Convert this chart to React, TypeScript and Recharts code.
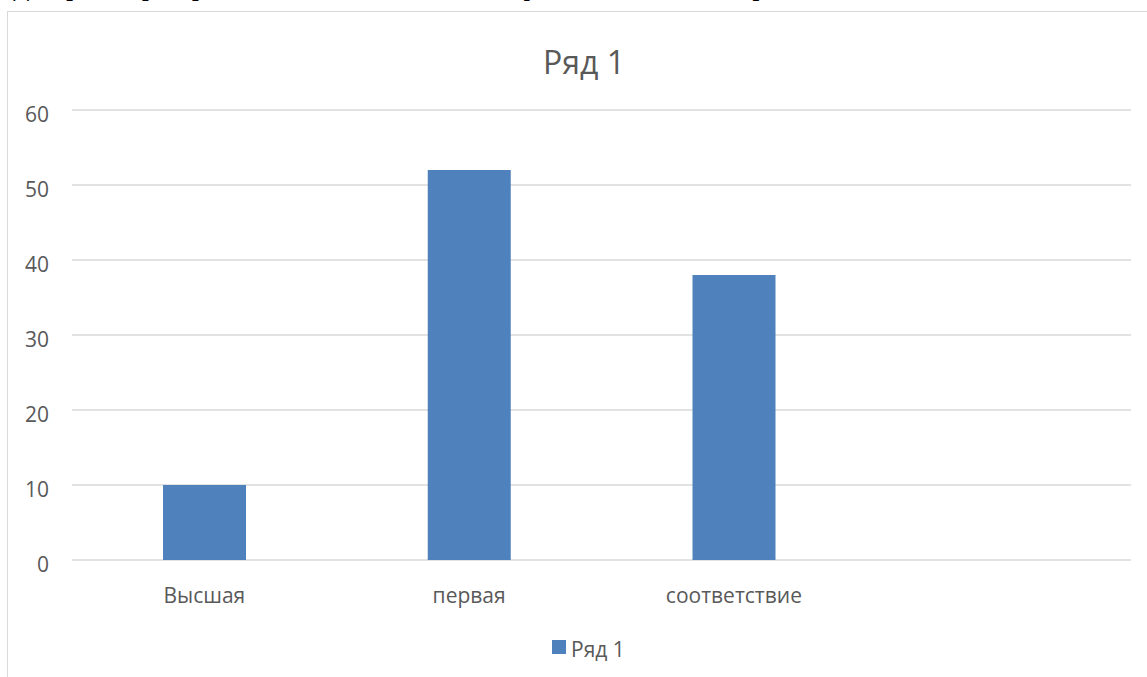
import React from "react";
import { BarChart, Bar, XAxis, YAxis, CartesianGrid, Legend } from "recharts";

const categories = ["Высшая", "первая", "соответствие", ""];
const series1 = [10, 52, 38, null];
const yTicks = [0, 10, 20, 30, 40, 50, 60];
const seriesName = "Ряд 1";
const heading = "Диаграмма распределения педагогов по квалификационным категориям";

const data = categories.map((name, i) => ({ name, value: series1[i] }));

const FONT = "'Open Sans', 'DejaVu Sans', sans-serif";
const TEXT = "#595959";
const GRID = "#D9D9D9";
const BLUE = "#4F81BD";

const YTick = ({ x, y, payload }: any) => (
  <text x={x} y={y + 12} textAnchor="end" fill={TEXT} fontSize={21} fontFamily={FONT}>
    {payload.value}
  </text>
);

const XTick = ({ x, y, payload }: any) => (
  <text x={x} y={y + 43} textAnchor="middle" fill={TEXT} fontSize={21} fontFamily={FONT}>
    {payload.value}
  </text>
);

const LegendContent = ({ payload }: any) => (
  <div style={{ display: "flex", alignItems: "center", fontFamily: FONT, fontSize: 21, color: TEXT, height: 29 }}>
    {(payload || []).map((p: any) => (
      <span key={p.value} style={{ display: "flex", alignItems: "center" }}>
        <span style={{ width: 14, height: 14, background: p.color, display: "inline-block", marginRight: 5, position: "relative", top: -2 }} />
        <span>{p.value}</span>
      </span>
    ))}
  </div>
);

export default function App() {
  return (
    <div style={{ position: "absolute", top: 0, left: 0, width: 1147, height: 677, overflow: "hidden", background: "#fff" }}>
      <div style={{ position: "absolute", left: 13, top: -24, fontFamily: "'Liberation Serif', serif", fontWeight: "bold", fontSize: 24, lineHeight: 1, whiteSpace: "nowrap", color: "#000" }}>
        {heading}
      </div>
      <div style={{ position: "absolute", left: 7, top: 11, width: 1200, height: 700, border: `1px solid ${GRID}` }} />
      <div style={{ position: "absolute", left: 0, top: 40, width: 1168, textAlign: "center", fontFamily: FONT, fontSize: 32, color: TEXT, lineHeight: "normal" }}>
        {seriesName}
      </div>
      <div style={{ position: "absolute", left: 0, top: 0 }}>
        <BarChart width={1147} height={677} data={data} margin={{ top: 110, right: 16, bottom: 58, left: 0 }}>
          <CartesianGrid vertical={false} stroke={GRID} strokeWidth={1.5} />
          <XAxis dataKey="name" height={30} axisLine={false} tickLine={false} tickSize={0} tickMargin={0} tick={<XTick />} interval={0} />
          <YAxis domain={[0, 60]} ticks={yTicks} width={72} axisLine={false} tickLine={false} tickSize={0} tickMargin={23} tick={<YTick />} interval={0} />
          <Legend
            layout="horizontal"
            verticalAlign="bottom"
            align="center"
            height={29}
            content={<LegendContent />}
            wrapperStyle={{ top: 634, left: 552, width: "auto" }}
          />
          <Bar dataKey="value" name={seriesName} fill={BLUE} barSize={83} isAnimationActive={false} />
        </BarChart>
      </div>
    </div>
  );
}
